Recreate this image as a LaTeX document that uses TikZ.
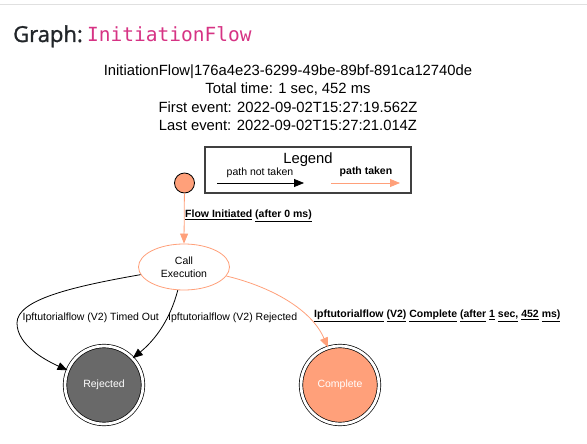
\documentclass[tikz,border=0pt]{standalone}
\usepackage{fontspec}
\setmainfont{Liberation Sans}
\newfontfamily\headfont[FakeBold=1.3]{Open Sans}
\newfontfamily\codefont{DejaVu Sans Mono}
\usetikzlibrary{arrows.meta,shapes.geometric}
\definecolor{salmonc}{HTML}{FFA07A}
\definecolor{dimgrayc}{HTML}{696969}
\definecolor{pinkc}{HTML}{D63384}
\definecolor{headc}{HTML}{212529}
\begin{document}
\begin{tikzpicture}[x=1pt,y=-1pt,
  lbl/.style={font=\fontsize{10.5}{12}\selectfont, inner sep=1pt},
  bl/.style={font=\fontsize{10.5}{12}\selectfont\bfseries, inner sep=1pt},
  ttl/.style={font=\fontsize{14.8}{16}\selectfont, inner sep=0pt, anchor=center},
  blk/.style={draw=black, line width=0.8pt, -{Triangle[length=10pt,width=8pt]}},
  sal/.style={draw=salmonc, line width=0.8pt, -{Triangle[length=10pt,width=8pt]}, fill=none},
  final/.style={circle, draw=black, line width=0.7pt, double=white, double distance=2.8pt, minimum size=78pt, inner sep=0pt, font=\fontsize{10.5}{12}\selectfont, text=white}]
\useasboundingbox (0,0) rectangle (587,444);
\draw[black!12, line width=1pt] (0,5) -- (587,5);
\node[anchor=base west, inner sep=0pt, font=\fontsize{22}{24}\selectfont\headfont, text=headc] (gt) at (13,42) {Graph:};
\node[anchor=base west, inner sep=0pt, font=\fontsize{19.5}{22}\selectfont\codefont, text=pinkc] (gn) at (87,42) {InitiationFlow};
\node[ttl] (t1) at (288,72) {InitiationFlow|176a4e23-6299-49be-89bf-891ca12740de};
\node[ttl] (t2) at (288,89.5) {Total time: 1 sec, 452 ms};
\node[ttl] (t3) at (288,107) {First event: 2022-09-02T15:27:19.562Z};
\node[ttl] (t4) at (288,125) {Last event: 2022-09-02T15:27:21.014Z};
% legend
\draw[black!75, line width=1.2pt] (205,147) rectangle (411,193);
\node[ttl] (lg) at (308,160) {Legend};
\node[lbl] (pnt) at (260,173) {path not taken};
\node[bl] (pt) at (366,172) {path taken};
\coordinate (la1) at (217,183); \coordinate (la2) at (304,183);
\coordinate (lb1) at (331,183); \coordinate (lb2) at (400,183);
\draw[blk] (la1) -- (la2);
\draw[sal] (lb1) -- (lb2);
% nodes
\node[circle, draw=black, line width=0.8pt, fill=salmonc, minimum size=20pt, inner sep=0pt] (start) at (184.5,183) {};
\node[ellipse, draw=salmonc, line width=0.8pt, fill=white, minimum width=91pt, minimum height=46pt, inner sep=0pt, align=center, font=\fontsize{10.5}{13}\selectfont] (call) at (184,267) {Call\\Execution};
\node[final, fill=dimgrayc] (rej) at (104,385) {Rejected};
\node[final, fill=salmonc] (comp) at (340,385) {Complete};
% edges
\draw[sal] (start) -- (call.north);
\node[bl, anchor=west] (l0) at (184,216) {\underline{Flow Initiated} \underline{(after 0 ms)}};
\draw[blk] (call.190) .. controls (70,287) and (17,300) .. (17,323) .. controls (17,345) and (45,360) .. (rej.158);
\node[lbl, anchor=west, fill=white, inner sep=0.5pt] (l1) at (22,318) {Ipftutorialflow (V2) Timed Out};
\draw[blk] (call.255) .. controls (170,320) and (155,340) .. (rej.43);
\node[lbl, anchor=west] (l2) at (167,318) {Ipftutorialflow (V2) Rejected};
\draw[sal] (call.-12) .. controls (272,287) and (312,310) .. (comp.108);
\node[bl, anchor=west] (l3) at (313,316) {\underline{Ipftutorialflow} \underline{(V2)} \underline{Complete} \underline{(after} \underline{1} \underline{sec,} \underline{452} \underline{ms)}};
\end{tikzpicture}
\end{document}
